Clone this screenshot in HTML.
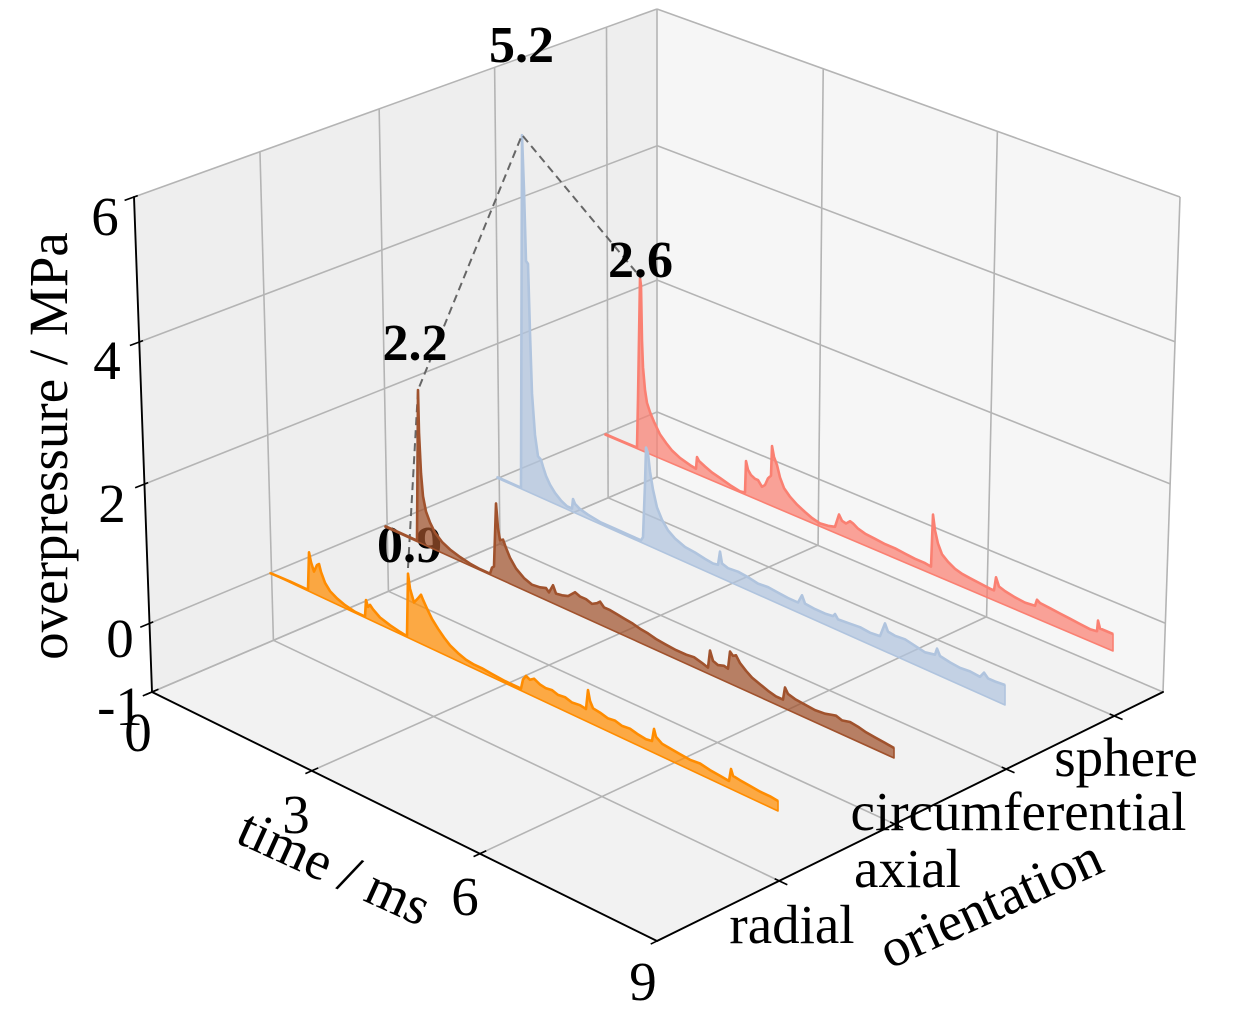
<!DOCTYPE html>
<html>
<head>
<meta charset="utf-8">
<style>
html,body{margin:0;padding:0;background:#ffffff;}
svg{display:block;}
</style>
</head>
<body>
<svg id="c" xmlns="http://www.w3.org/2000/svg" width="1234" height="1017" viewBox="0 0 1234 1017"></svg>
<script>
const NS='http://www.w3.org/2000/svg';
const svg=document.getElementById('c');
const FONT='"Liberation Serif", "Times New Roman", serif';
function el(tag,attrs,txt){const e=document.createElementNS(NS,tag);for(const k in attrs)e.setAttribute(k,attrs[k]);if(txt!==undefined)e.textContent=txt;svg.appendChild(e);return e;}
function f(v){return (+v).toFixed(2);}
function ln(p,q,st,w,extra){const a={x1:f(p[0]),y1:f(p[1]),x2:f(q[0]),y2:f(q[1]),stroke:st,'stroke-width':w,'stroke-linecap':'butt'};if(extra)Object.assign(a,extra);el('line',a);}
function add(a,b){return [a[0]+b[0],a[1]+b[1]];}
function sub(a,b){return [a[0]-b[0],a[1]-b[1]];}
function mul(a,s){return [a[0]*s,a[1]*s];}
function norm(v){const l=Math.hypot(v[0],v[1]);return [v[0]/l,v[1]/l];}
function pts(arr){return arr.map(p=>p[0].toFixed(1)+','+p[1].toFixed(1)).join(' ');}
function H(p0,p1,p2,p3){
  const x0=p0[0],y0=p0[1],x1=p1[0],y1=p1[1],x2=p2[0],y2=p2[1],x3=p3[0],y3=p3[1];
  const sx=x0-x1+x2-x3, sy=y0-y1+y2-y3;
  const dx1=x1-x2, dx2=x3-x2, dy1=y1-y2, dy2=y3-y2;
  const den=dx1*dy2-dx2*dy1;
  const g=(sx*dy2-dx2*sy)/den, h=(dx1*sy-sx*dy1)/den;
  const a=x1-x0+g*x1, b=x3-x0+h*x3, c=x0;
  const d=y1-y0+g*y1, e=y3-y0+h*y3, ff=y0;
  return (u,v)=>{const w=g*u+h*v+1;return [(a*u+b*v+c)/w,(d*u+e*v+ff)/w];};
}
const LB=[152,692],LT=[134,197],BB=[657,477],BT=[657,9],F=[657,941],RB=[1163,692],RT=[1180,197];
const Lp=H(LB,BB,BT,LT);
const Rp=H(BB,RB,RT,BT);
const Fl=H(LB,F,RB,BB);
const OF=[0.228,0.451,0.674,0.897];
const TF=[0,1/3,2/3,1];
const ZF=[0,1/7,3/7,5/7,1];

el('polygon',{points:pts([LB,BB,BT,LT]),fill:'#eeeeee'});
el('polygon',{points:pts([BB,RB,RT,BT]),fill:'#f6f6f6'});
el('polygon',{points:pts([LB,F,RB,BB]),fill:'#f2f2f2'});

const GC='#b4b4b4', GW=1.6;
for(const o of OF) ln(Lp(o,0),Lp(o,1),GC,GW);
for(const z of ZF) ln(Lp(0,z),Lp(1,z),GC,GW);
for(const t of TF) ln(Rp(t,0),Rp(t,1),GC,GW);
for(const z of ZF) ln(Rp(0,z),Rp(1,z),GC,GW);
for(const t of TF) ln(Fl(t,0),Fl(t,1),GC,GW);
for(const o of OF) ln(Fl(0,o),Fl(1,o),GC,GW);

function series(X0,Y0,X1,Y1,data,col){
  const base=x=>Y0+(x-X0)*(Y1-Y0)/(X1-X0);
  const top=data.map(p=>[p[0],base(p[0])-p[1]]);
  const poly=top.concat([[X1,Y1],[X0,Y0]]);
  el('polygon',{points:pts(poly),fill:col,'fill-opacity':0.72,stroke:col,'stroke-width':1.6,'stroke-linejoin':'round'});
  el('polyline',{points:pts(top),fill:'none',stroke:col,'stroke-width':2.6,'stroke-linejoin':'round'});
}

const RED=[[605,1],[620,1],[637,1],[638,50],[640,172],[641,165],[642,110],[643,84],[645,62],[647,50],[650,42],[654,34],[660,24],[666,18],[672,13],[680,9],[690,6],[696,5],[697,17],[699,14],[705,11],[712,8],[720,6],[730,3],[740,1],[745,2],[746,34],[748,26],[751,22],[755,20],[758,20],[762,15],[765,18],[768,26],[771,30],[772,60],[774,50],[777,43],[780,32],[784,23],[790,17],[797,12],[805,8],[812,5],[820,3],[828,4],[835,6],[839,20],[842,15],[846,14],[850,18],[853,17],[858,14],[865,12],[875,11],[885,10],[895,10],[905,9],[915,8],[925,8],[931,7],[933,60],[935,45],[938,33],[942,24],[948,19],[955,15],[962,13],[970,12],[980,11],[990,10],[994,10],[996,24],[999,16],[1005,14],[1015,12],[1025,11],[1035,12],[1037,19],[1040,17],[1050,16],[1060,15],[1070,14],[1080,13],[1090,12],[1097,13],[1098,24],[1100,17],[1106,17],[1113,17]];
const BLUE=[[497,1],[510,1],[521,1],[522,354],[524,300],[526,230],[528,228],[530,160],[532,100],[535,60],[538,40],[541,38],[543,32],[546,24],[550,17],[555,11],[561,6],[567,3],[572,3],[573,13],[575,9],[580,6],[588,4],[600,2],[615,2],[630,2],[641,2],[643,6],[645,60],[646,97],[648,92],[650,75],[653,58],[657,42],[662,32],[668,24],[675,19],[685,15],[695,14],[705,12],[713,11],[718,12],[720,26],[722,15],[728,13],[738,14],[748,13],[758,11],[768,12],[778,11],[788,10],[798,10],[802,19],[805,12],[815,11],[825,11],[833,12],[835,15],[838,11],[850,12],[860,13],[870,12],[880,13],[885,28],[888,21],[895,20],[905,21],[915,19],[925,17],[935,19],[937,26],[940,20],[950,18],[960,17],[970,18],[980,17],[984,23],[988,19],[995,19],[1005,20]];
const BROWN=[[385,1],[400,1],[417,1],[418,152],[419,110],[421,70],[423,48],[426,34],[430,25],[435,17],[442,11],[450,7],[460,4],[470,2],[480,1],[490,1],[492,8],[494,10],[496,74],[498,50],[500,39],[503,41],[506,34],[510,26],[516,18],[524,12],[532,9],[540,10],[546,12],[549,9],[553,18],[556,11],[562,12],[568,14],[575,21],[580,19],[586,19],[592,17],[597,20],[600,23],[604,19],[610,19],[617,18],[624,17],[632,16],[640,14],[648,13],[656,11],[665,10],[676,9],[686,9],[694,10],[702,8],[708,6],[710,24],[713,15],[718,13],[724,15],[728,14],[730,32],[733,29],[736,31],[740,25],[746,20],[752,16],[760,13],[768,10],[776,8],[783,8],[785,21],[788,16],[795,14],[805,13],[815,12],[825,13],[832,15],[836,16],[842,14],[850,16],[858,15],[866,13],[875,12],[885,11],[894,10]];
const ORANGE=[[270,0],[290,1],[308,1],[309,39],[311,30],[314,22],[317,30],[319,32],[321,25],[325,16],[330,10],[337,6],[345,3],[355,1],[365,1],[366,18],[368,12],[370,15],[373,12],[380,7],[390,4],[400,2],[407,1],[408,64],[410,50],[414,38],[418,44],[421,49],[423,45],[427,38],[432,30],[438,23],[444,17],[450,12],[458,8],[466,5],[474,4],[482,4],[492,3],[505,2],[521,2],[523,12],[526,17],[530,15],[534,18],[540,15],[546,14],[552,15],[558,13],[565,14],[572,12],[580,13],[586,12],[588,32],[590,22],[593,16],[600,15],[608,13],[615,14],[622,12],[630,13],[638,11],[646,10],[652,11],[654,24],[656,17],[662,13],[670,12],[680,11],[690,10],[700,11],[710,9],[720,8],[729,7],[731,20],[733,14],[740,13],[750,12],[760,11],[770,11],[778,10]];

series(605,435,1113,651,RED,'#fa8072');
series(497,478,1005,705,BLUE,'#b0c4de');

el('polyline',{points:pts([[408,568],[418,390],[522,135],[641,278]]),fill:'none',stroke:'#666666','stroke-width':2,'stroke-dasharray':'8,5'});

function txt(s,x,y,size,extra){const a={x:x,y:y,'font-size':size,'text-anchor':'middle','font-family':FONT,fill:'#000'};if(extra)Object.assign(a,extra);return el('text',a,s);}
txt('5.2',521.5,62,52,{'font-weight':'bold'});
txt('2.6',640.5,277,52,{'font-weight':'bold'});
txt('2.2',415,360,52,{'font-weight':'bold'});
txt('0.9',409.5,562,52,{'font-weight':'bold'});

series(385,527,894,758,BROWN,'#a0522d');
series(270,573,778,811,ORANGE,'#ff8c00');

ln(LT,LB,'#000',1.9,{'stroke-linecap':'round'});
ln(LB,F,'#000',1.9,{'stroke-linecap':'round'});
ln(F,RB,'#000',1.9,{'stroke-linecap':'round'});

for(const z of ZF){const p=Lp(0,z);const d=norm(sub(p,Lp(0.1,z)));ln(add(p,mul(d,-4)),add(p,mul(d,10)),'#000',1.6);}
for(const t of TF){const p=Fl(t,0);const d=norm(sub(p,Fl(t,0.1)));ln(add(p,mul(d,-7)),add(p,mul(d,7)),'#000',1.6);}
for(const o of OF){const p=Fl(1,o);const d=norm(sub(p,Fl(0.9,o)));ln(add(p,mul(d,-5)),add(p,mul(d,9)),'#000',1.6);}

const TS=55;
txt('6',105,235,TS);
txt('4',107,379,TS);
txt('2',112,522,TS);
txt('0',120,657,TS);
txt('-1',120,725,TS);
txt('0',138,751,TS);
txt('3',296,833,TS);
txt('6',465,915,TS);
txt('9',643,1000,TS);
txt('sphere',1126,776,TS);
txt('circumferential',1018.5,830,TS);
txt('axial',907.5,887,TS);
txt('radial',792,943,TS);

txt('overpressure / MPa',0,0,TS,{transform:'translate(67,446) rotate(-90)'});
txt('time / ms',0,0,TS,{transform:'translate(327,884) rotate(24.5)'});
txt('orientation',0,0,TS,{transform:'translate(998,920) rotate(-24.5)'});
</script>
</body>
</html>
